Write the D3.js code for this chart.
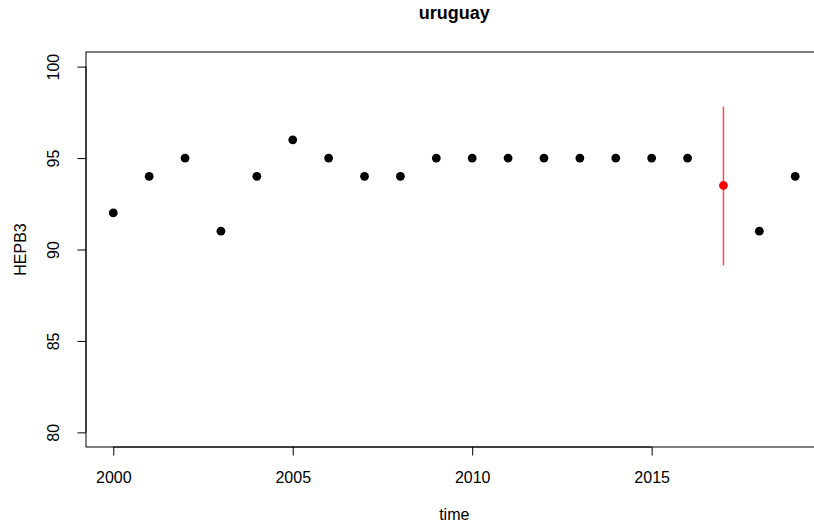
<!DOCTYPE html>
<html>
<head>
<meta charset="utf-8">
<script src="https://cdn.jsdelivr.net/npm/d3@7"></script>
<style>
  body { margin: 0; background: #fff; }
  svg { display: block; }
  svg text { font-family: "Liberation Sans", Arial, sans-serif; fill: #000; }
</style>
</head>
<body>
<div id="chart"></div>
<script>
// observed coverage values
const years = [2000, 2001, 2002, 2003, 2004, 2005, 2006, 2007, 2008, 2009,
  2010, 2011, 2012, 2013, 2014, 2015, 2016, 2018, 2019];
const values = [92, 94, 95, 91, 94, 96, 95, 94, 94, 95,
  95, 95, 95, 95, 95, 95, 95, 91, 94];
// imputed point with interval
const estYear = [2017];
const estValue = [93.5];
const estLow = [89.13];
const estHigh = [97.82];

const xTicks = [2000, 2005, 2010, 2015];
const yTicks = [80, 85, 90, 95, 100];

const width = 814, height = 529;
const margin = { top: 52, right: -8.5, bottom: 82, left: 86 };

const svg = d3.select('#chart').append('svg')
  .attr('width', width)
  .attr('height', height);

// R-style 4% axis extension
const xr = 2019 - 2000, yr = 100 - 80;
const x = d3.scaleLinear()
  .domain([2000 - xr * 0.04, 2019 + xr * 0.04])
  .range([margin.left, width - margin.right]);
const y = d3.scaleLinear()
  .domain([80 - yr * 0.04, 100 + yr * 0.04])
  .range([height - margin.bottom, margin.top]);

svg.append('rect')
  .attr('x', margin.left)
  .attr('y', margin.top)
  .attr('width', width - margin.right - margin.left)
  .attr('height', height - margin.bottom - margin.top)
  .attr('fill', 'none')
  .attr('stroke', '#000')
  .attr('stroke-width', 1);

const xAxis = svg.append('g')
  .attr('transform', `translate(0, ${height - margin.bottom})`)
  .call(d3.axisBottom(x).tickValues(xTicks).tickSize(8.5).tickFormat(d3.format('d')));
xAxis.select('.domain')
  .attr('d', `M${x(2000)},0H${x(2015)}`);
xAxis.selectAll('.tick text')
  .attr('y', 35.7)
  .attr('dy', 0);

const yAxis = svg.append('g')
  .attr('transform', `translate(${margin.left}, 0)`)
  .call(d3.axisLeft(y).tickValues(yTicks).tickSize(8.5));
yAxis.select('.domain')
  .attr('d', `M0,${y(80)}V${y(100)}`);
yAxis.selectAll('.tick text')
  .attr('transform', 'rotate(-90)')
  .attr('x', 0)
  .attr('y', -27)
  .attr('dy', 0)
  .style('text-anchor', 'middle');

svg.selectAll('g').attr('font-family', null).attr('font-size', null);
svg.selectAll('.tick text').style('font-size', '16px');
svg.selectAll('.domain, .tick line').attr('stroke', '#000');

svg.selectAll('line.err')
  .data(estYear)
  .enter()
  .append('line')
  .attr('class', 'err')
  .attr('x1', d => x(d))
  .attr('x2', d => x(d))
  .attr('y1', (d, i) => y(estHigh[i]))
  .attr('y2', (d, i) => y(estLow[i]))
  .attr('stroke', '#ff0000')
  .attr('stroke-opacity', 0.7)
  .attr('stroke-width', 1.5);

svg.selectAll('circle.obs')
  .data(years)
  .enter()
  .append('circle')
  .attr('class', 'obs')
  .attr('cx', d => x(d))
  .attr('cy', (d, i) => y(values[i]))
  .attr('r', 4.4)
  .attr('fill', '#000');

svg.selectAll('circle.est')
  .data(estYear)
  .enter()
  .append('circle')
  .attr('class', 'est')
  .attr('cx', d => x(d))
  .attr('cy', (d, i) => y(estValue[i]))
  .attr('r', 4.4)
  .attr('fill', '#ff0000');

const cx = (margin.left + width - margin.right) / 2;

svg.append('text')
  .attr('x', cx)
  .attr('y', 18.5)
  .attr('text-anchor', 'middle')
  .style('font-size', '18px')
  .style('font-weight', 'bold')
  .text('uruguay');

svg.append('text')
  .attr('x', cx)
  .attr('y', 520)
  .attr('text-anchor', 'middle')
  .style('font-size', '16px')
  .text('time');

svg.append('text')
  .attr('transform', `translate(25.7, ${(margin.top + height - margin.bottom) / 2}) rotate(-90)`)
  .attr('text-anchor', 'middle')
  .style('font-size', '16px')
  .text('HEPB3');
</script>
</body>
</html>
